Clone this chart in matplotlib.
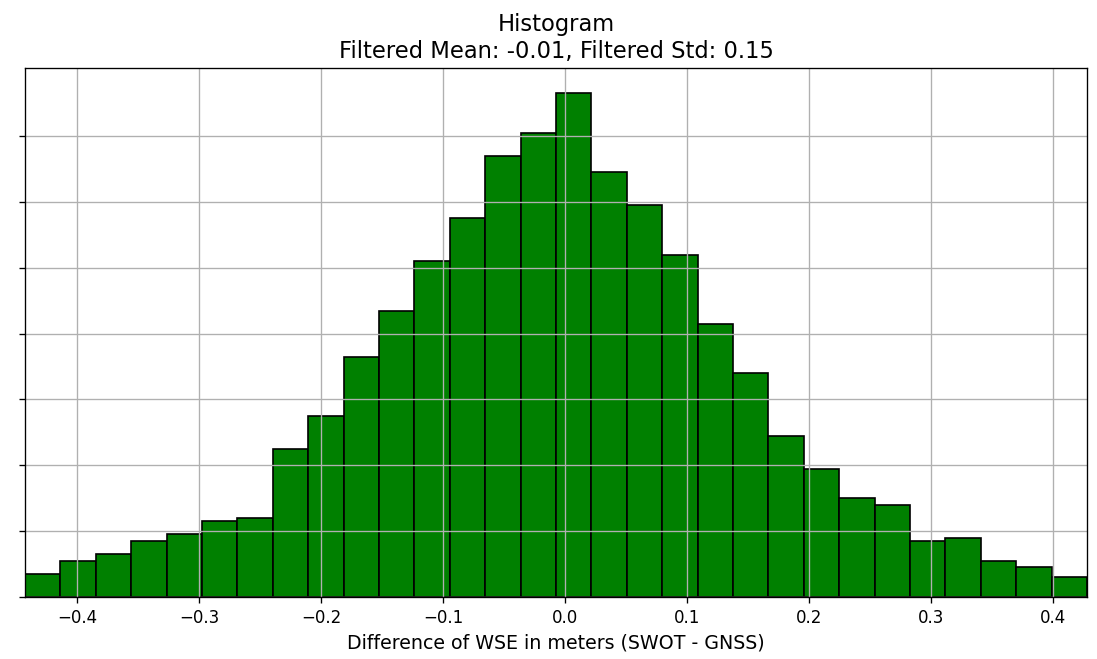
import numpy as np
import matplotlib.pyplot as plt

# Histograma de diferencias WSE (SWOT - GNSS)
x_min = -0.4426
x_max = 0.4279
n_bins = 30
counts = [7, 11, 13, 17, 19, 23, 24, 45, 55, 73,
          87, 102, 115, 134, 141, 153, 129, 119, 104, 83,
          68, 49, 39, 30, 28, 17, 18, 11, 9, 6]
mean_f = -0.01
std_f = 0.15

edges = np.linspace(x_min, x_max, n_bins + 1)
centers = (edges[:-1] + edges[1:]) / 2

fig, ax = plt.subplots(figsize=(1097 / 120, 659 / 120), dpi=120)
ax.hist(centers, bins=edges, weights=counts, color='green', edgecolor='black')
ax.set_title('Histogram\nFiltered Mean: %.2f, Filtered Std: %.2f' % (mean_f, std_f),
             fontsize=13.6)
ax.set_xlabel('Difference of WSE in meters (SWOT - GNSS)', fontsize=11.4)
ax.set_xlim(x_min, x_max)
ax.set_yticks(np.arange(0, 160, 20))
ax.set_yticklabels([])
ax.grid(True)

fig.subplots_adjust(left=25 / 1097, right=1087 / 1097, top=1 - 68 / 659, bottom=1 - 597 / 659)
fig.savefig('out.png')
